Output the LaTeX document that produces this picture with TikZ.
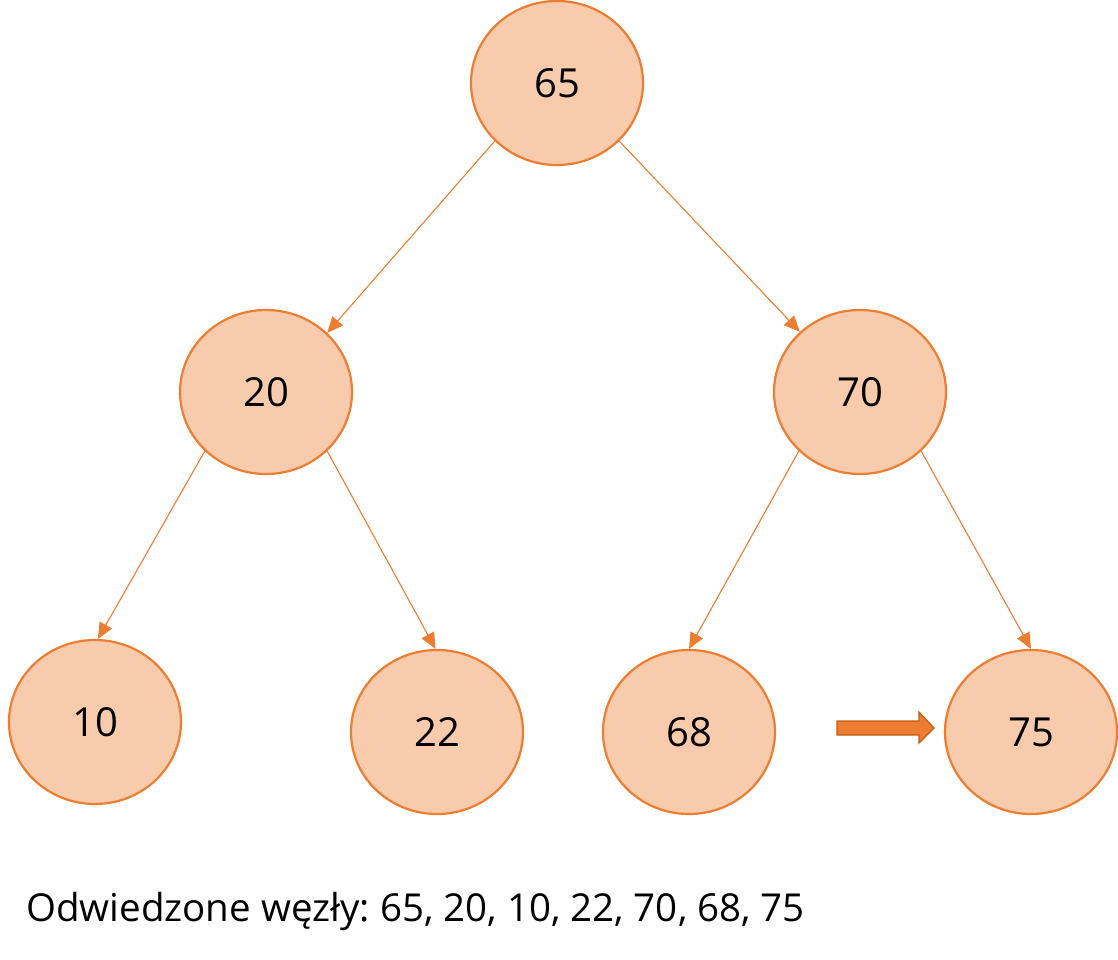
\documentclass[tikz,border=0pt]{standalone}
\usepackage{fontspec}
\setmainfont{Open Sans}
\frenchspacing
\usetikzlibrary{arrows.meta,shapes.geometric}
\definecolor{nodefill}{HTML}{F8CBAD}
\definecolor{nodeline}{HTML}{ED7D31}
\definecolor{arrowline}{HTML}{C55A11}
\tikzset{
  treenode/.style={ellipse, draw=nodeline, fill=nodefill, line width=2.2pt,
    minimum width=172pt, minimum height=164pt, inner sep=0pt,
    font=\fontsize{40}{48}\selectfont},
  edge/.style={draw=nodeline, line width=1.1pt,
    -{Triangle[length=16pt,width=14pt]}},
}
\begin{document}
\begin{tikzpicture}[x=1pt,y=-1pt]
\useasboundingbox (0,0) rectangle (1118,960);
\node[treenode] (n65) at (557,83) {65};
\node[treenode] (n20) at (266,392) {20};
\node[treenode] (n70) at (860,392) {70};
\node[treenode] (n10) at (95,722) {10};
\node[treenode] (n22) at (437,732) {22};
\node[treenode] (n68) at (689,732) {68};
\node[treenode] (n75) at (1031,732) {75};
\draw[edge] (n65.223) -- (n20.44);
\draw[edge] (n65.317) -- (n70.135);
\draw[edge] (n20.224) -- (n10.88);
\draw[edge] (n20.316) -- (n22.91);
\draw[edge] (n70.224) -- (n68.90);
\draw[edge] (n70.316) -- (n75.90);
\draw[fill=nodeline, draw=arrowline, line width=1.2pt]
  (837,721) -- (919,721) -- (919,712) -- (934,728) -- (919,743) -- (919,735) -- (837,735) -- cycle;
\node[anchor=base west, inner sep=0pt, font=\fontsize{38.5}{46}\selectfont] (caption) at (26,921) {Odwiedzone węzły: 65, 20, 10, 22, 70, 68, 75};
\end{tikzpicture}
\end{document}
